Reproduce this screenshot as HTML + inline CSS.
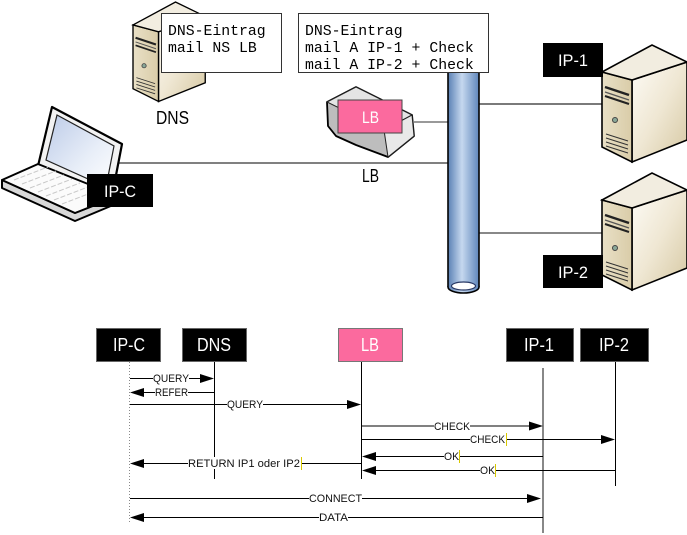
<!DOCTYPE html>
<html><head><meta charset="utf-8"><style>
html,body{margin:0;padding:0;background:#fff;width:687px;height:535px;overflow:hidden}
svg{display:block}
</style></head><body>
<svg width="687" height="535" viewBox="0 0 687 535" xmlns="http://www.w3.org/2000/svg">
<defs>
<linearGradient id="front" x1="0" y1="0" x2="1" y2="0"><stop offset="0" stop-color="#e9e0c6"/><stop offset="1" stop-color="#d9cca8"/></linearGradient>
<linearGradient id="side" x1="0" y1="0" x2="1" y2="1"><stop offset="0" stop-color="#fdfbf6"/><stop offset="0.5" stop-color="#efe7d3"/><stop offset="1" stop-color="#d6c8a2"/></linearGradient>
<linearGradient id="pipe" x1="0" y1="0" x2="1" y2="0"><stop offset="0" stop-color="#5a80b4"/><stop offset="0.45" stop-color="#c6d8ef"/><stop offset="1" stop-color="#5f86bb"/></linearGradient>
<linearGradient id="scr" x1="0" y1="0" x2="1" y2="1"><stop offset="0" stop-color="#bccbe8"/><stop offset="0.6" stop-color="#e8eef8"/><stop offset="1" stop-color="#ffffff"/></linearGradient>
<g id="srv">
 <polygon points="30,35 85,17 85,95 30,117" fill="url(#side)" stroke="#000" stroke-width="1.6"/>
 <polygon points="0,27 30,35 30,117 0,102" fill="url(#front)" stroke="#000" stroke-width="1.6"/>
 <polygon points="0,27 50,0 85,17 30,35" fill="#f2ede0" stroke="#000" stroke-width="1.6"/>
 <path d="M3,42 L27,50" stroke="#222" stroke-width="2.5"/>
 <path d="M3,47 L27,55" stroke="#555" stroke-width="1.2"/>
 <path d="M3,51 L27,59" stroke="#222" stroke-width="2"/>
 <circle cx="13" cy="75" r="2.5" fill="#8aa898" stroke="#444" stroke-width="1"/>
 <path d="M4,89 L26,96 M4,93 L26,100 M4,97 L26,104 M4,101 L26,108" stroke="#333" stroke-width="1"/>
</g>
</defs>

<!-- top diagram connection lines -->
<line x1="117" y1="163" x2="449" y2="163" stroke="#808080" stroke-width="2"/>
<line x1="414" y1="122" x2="449" y2="122" stroke="#333" stroke-width="1"/>
<line x1="479" y1="104" x2="602" y2="104" stroke="#7a7a7a" stroke-width="2"/>
<line x1="479" y1="233" x2="602" y2="233" stroke="#111" stroke-width="1"/>

<!-- pipe -->
<rect x="448" y="68" width="31" height="220" fill="url(#pipe)"/>
<ellipse cx="463.5" cy="287" rx="15.5" ry="6" fill="url(#pipe)" stroke="#000" stroke-width="1.6"/>
<rect x="448" y="68" width="31" height="219" fill="url(#pipe)"/>
<line x1="448" y1="68" x2="448" y2="287" stroke="#000" stroke-width="1.6"/>
<line x1="479" y1="68" x2="479" y2="287" stroke="#000" stroke-width="1.6"/>
<ellipse cx="463.5" cy="286" rx="12" ry="4" fill="#fff" stroke="#2a3a66" stroke-width="1.2"/>

<!-- servers -->
<use href="#srv" transform="translate(133,2) scale(0.85)"/>
<use href="#srv" transform="translate(602,45)"/>
<use href="#srv" transform="translate(602,173)"/>

<!-- laptop -->
<polygon points="2,180 75,213 118,196 118,203 75,221 2,188" fill="#d8d8d8" stroke="#000" stroke-width="2" stroke-linejoin="round"/>
<polygon points="38,166 52,107 122,144 112,196" fill="#f2f2f2" stroke="#000" stroke-width="2.2" stroke-linejoin="round"/>
<polygon points="46,160 57,115 114,146 106,187" fill="url(#scr)" stroke="#222" stroke-width="1.2"/>
<polygon points="2,180 38,164 118,196 75,213" fill="#fbfbfb" stroke="#000" stroke-width="2" stroke-linejoin="round"/>
<path d="M14,180 L48,167 M22,184 L56,171 M30,188 L64,175 M38,192 L72,179 M46,196 L80,183 M54,200 L88,187 M62,204 L96,191" stroke="#c8c8c8" stroke-width="1" stroke-dasharray="5,2"/>

<!-- LB device -->
<polygon points="327,102 356,87 412,115 414,136 388,157 356,145 336,136 328,126" fill="#bdbdbd" stroke="#000" stroke-width="1.8" stroke-linejoin="round"/>
<polygon points="327,102 356,87 412,115 384,130" fill="#e4e4e4" stroke="#222" stroke-width="1"/>
<polygon points="384,130 412,115 414,136 388,157" fill="#e9e9e9" stroke="#222" stroke-width="1"/>
<rect x="338" y="100" width="64" height="33" fill="#fb6a9e" stroke="#444" stroke-width="1"/>
<text x="362" y="123" font-family="Liberation Sans, sans-serif" font-size="17" fill="#fff" textLength="17" lengthAdjust="spacingAndGlyphs">LB</text>

<!-- note boxes -->
<rect x="161.5" y="13.5" width="120" height="59" fill="#fff" stroke="#333" stroke-width="1"/>
<text font-family="Liberation Mono, monospace" font-size="14.8" fill="#000">
<tspan x="168" y="35">DNS-Eintrag</tspan>
<tspan x="168" y="52">mail NS LB</tspan>
</text>
<rect x="298.5" y="13.5" width="190" height="59" fill="#fff" stroke="#333" stroke-width="1"/>
<text font-family="Liberation Mono, monospace" font-size="14.8" fill="#000">
<tspan x="305" y="35">DNS-Eintrag</tspan>
<tspan x="305" y="52">mail A IP-1 + Check</tspan>
<tspan x="305" y="69">mail A IP-2 + Check</tspan>
</text>

<!-- top labels -->
<text x="156" y="124" font-family="Liberation Sans, sans-serif" font-size="18" fill="#000" textLength="33" lengthAdjust="spacingAndGlyphs">DNS</text>
<text x="362" y="182" font-family="Liberation Sans, sans-serif" font-size="18" fill="#000" textLength="17" lengthAdjust="spacingAndGlyphs">LB</text>
<rect x="87" y="174" width="66" height="33" fill="#000"/>
<text x="104" y="197" font-family="Liberation Sans, sans-serif" font-size="17" fill="#fff" textLength="32" lengthAdjust="spacingAndGlyphs">IP-C</text>
<rect x="543" y="43" width="60" height="34" fill="#000"/>
<text x="558" y="66" font-family="Liberation Sans, sans-serif" font-size="17" fill="#fff" textLength="30" lengthAdjust="spacingAndGlyphs">IP-1</text>
<rect x="543" y="255" width="60" height="33" fill="#000"/>
<text x="558" y="278" font-family="Liberation Sans, sans-serif" font-size="17" fill="#fff" textLength="30" lengthAdjust="spacingAndGlyphs">IP-2</text>

<!-- sequence lifelines -->
<line x1="129.5" y1="362" x2="129.5" y2="523" stroke="#8a8a8a" stroke-width="1" stroke-dasharray="1,2"/>
<line x1="214.5" y1="362" x2="214.5" y2="479" stroke="#000" stroke-width="1"/>
<line x1="361.5" y1="362" x2="361.5" y2="479" stroke="#000" stroke-width="1"/>
<line x1="543" y1="368" x2="543" y2="533" stroke="#888" stroke-width="2"/>
<line x1="615.5" y1="362" x2="615.5" y2="486" stroke="#000" stroke-width="1"/>

<!-- sequence boxes -->
<g font-family="Liberation Sans, sans-serif" font-size="18" fill="#fff">
<rect x="96.5" y="328.5" width="64" height="33" fill="#000" stroke="#666"/>
<text x="113" y="351" textLength="32" lengthAdjust="spacingAndGlyphs">IP-C</text>
<rect x="182.5" y="328.5" width="64" height="33" fill="#000" stroke="#666"/>
<text x="197" y="351" textLength="34" lengthAdjust="spacingAndGlyphs">DNS</text>
<rect x="338.5" y="328.5" width="64" height="33" fill="#fb6a9e" stroke="#777"/>
<text x="361" y="351" textLength="18" lengthAdjust="spacingAndGlyphs">LB</text>
<rect x="506.5" y="328.5" width="67" height="33" fill="#000" stroke="#666"/>
<text x="524" y="351" textLength="30" lengthAdjust="spacingAndGlyphs">IP-1</text>
<rect x="580.5" y="328.5" width="68" height="33" fill="#000" stroke="#666"/>
<text x="599" y="351" textLength="30" lengthAdjust="spacingAndGlyphs">IP-2</text>
</g>

<!-- messages -->
<g stroke="#000" stroke-width="1">
<line x1="130" y1="378.5" x2="202" y2="378.5"/>
<line x1="143" y1="392.5" x2="214" y2="392.5"/>
<line x1="130" y1="404.5" x2="349" y2="404.5"/>
<line x1="362" y1="426" x2="531" y2="426" stroke="#808080" stroke-width="2"/>
<line x1="362" y1="439.5" x2="603" y2="439.5"/>
<line x1="374" y1="456.5" x2="543" y2="456.5"/>
<line x1="143" y1="463.5" x2="361" y2="463.5"/>
<line x1="374" y1="470.5" x2="615" y2="470.5"/>
<line x1="130" y1="498.5" x2="531" y2="498.5"/>
<line x1="143" y1="517.5" x2="543" y2="517.5"/>
</g>
<g fill="#000">
<polygon points="214,378.5 200,374 200,383"/>
<polygon points="130,392.5 144,388 144,397"/>
<polygon points="361,404.5 347,400 347,409"/>
<polygon points="543,426 529,421.5 529,430.5"/>
<polygon points="615,439.5 601,435 601,444"/>
<polygon points="362,456.5 376,452 376,461"/>
<polygon points="130,463.5 144,459 144,468"/>
<polygon points="362,470.5 376,466 376,475"/>
<polygon points="541,498.5 527,494 527,503"/>
<polygon points="130,517.5 144,513 144,522"/>
</g>

<!-- message labels -->
<g fill="#fff">
<rect x="153" y="372" width="36" height="12"/>
<rect x="155" y="386" width="33" height="12"/>
<rect x="227" y="398" width="36" height="12"/>
<rect x="434" y="420" width="36" height="12"/>
<rect x="470" y="433" width="36" height="12"/>
<rect x="444" y="450" width="15" height="12"/>
<rect x="188" y="457" width="113" height="12"/>
<rect x="480" y="464" width="15" height="12"/>
<rect x="309" y="492" width="53" height="12"/>
<rect x="319" y="511" width="29" height="12"/>
</g>
<g font-family="Liberation Sans, sans-serif" font-size="11" fill="#111" lengthAdjust="spacingAndGlyphs">
<text x="153" y="382" textLength="36" lengthAdjust="spacingAndGlyphs">QUERY</text>
<text x="155" y="396" textLength="33" lengthAdjust="spacingAndGlyphs">REFER</text>
<text x="227" y="408" textLength="36" lengthAdjust="spacingAndGlyphs">QUERY</text>
<text x="434" y="430" textLength="36" lengthAdjust="spacingAndGlyphs">CHECK</text>
<text x="470" y="443" textLength="35" lengthAdjust="spacingAndGlyphs">CHECK</text>
<text x="444" y="460" textLength="15" lengthAdjust="spacingAndGlyphs">OK</text>
<text x="188" y="467" textLength="112" lengthAdjust="spacingAndGlyphs">RETURN IP1 oder IP2</text>
<text x="480" y="474" textLength="15" lengthAdjust="spacingAndGlyphs">OK</text>
<text x="309" y="502" textLength="53" lengthAdjust="spacingAndGlyphs">CONNECT</text>
<text x="319" y="521" textLength="29" lengthAdjust="spacingAndGlyphs">DATA</text>
</g>
<g stroke="#d8c800" stroke-width="1">
<line x1="506.5" y1="433" x2="506.5" y2="446"/>
<line x1="459.5" y1="450" x2="459.5" y2="463"/>
<line x1="495.5" y1="464" x2="495.5" y2="477"/>
<line x1="301.5" y1="457" x2="301.5" y2="470"/>
</g>
</svg>
</body></html>
